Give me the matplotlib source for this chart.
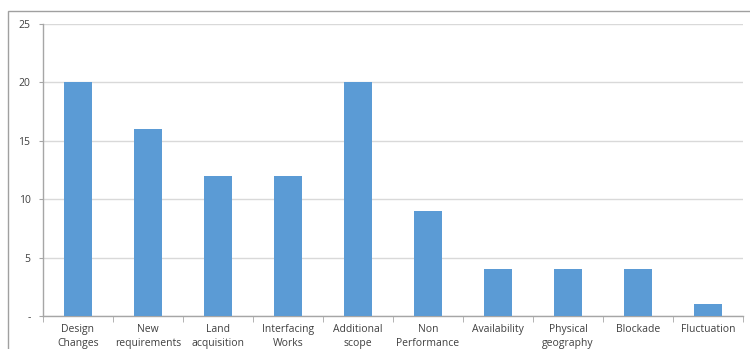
import matplotlib
matplotlib.use("Agg")
import matplotlib.pyplot as plt
import matplotlib.ticker as ticker
from matplotlib.patches import Rectangle

# ── Data ──────────────────────────────────────────────────────────────────────
categories = ["Design\nChanges", "New\nrequirements", "Land\nacquisition",
              "Interfacing\nWorks", "Additional\nscope", "Non\nPerformance",
              "Availability", "Physical\ngeography", "Blockade", "Fluctuation"]
counts = [20, 16, 12, 12, 20, 9, 4, 4, 4, 1]
y_ticks = [0, 5, 10, 15, 20, 25]
y_tick_labels = ["-", "5", "10", "15", "20", "25"]

BAR_COLOR = "#5B9BD5"
GRID_COLOR = "#D9D9D9"
AXIS_COLOR = "#A6A6A6"
TEXT_COLOR = "#404040"

plt.rcParams["font.family"] = ["Open Sans", "DejaVu Sans"]

fig = plt.figure(figsize=(7.5, 3.49), dpi=100)
W, H = 750, 349
ax = fig.add_axes([43 / W, (H - 316) / H, 700 / W, 292 / H])

# outer chart frame (cut off at right and bottom)
fig.patches.append(Rectangle((8 / W, -0.1), 1.2, (H - 11) / H + 0.1,
                             transform=fig.transFigure, fill=False,
                             edgecolor="#A0A0A0", linewidth=1.0))

x = range(len(categories))
ax.bar(x, counts, width=0.4, color=BAR_COLOR, zorder=3)

ax.set_xlim(-0.5, len(categories) - 0.5)
ax.set_ylim(0, 25)
ax.set_yticks(y_ticks)
ax.set_yticklabels(y_tick_labels, fontsize=7.5, color=TEXT_COLOR)
ax.yaxis.grid(True, color=GRID_COLOR, linewidth=1.0, zorder=0)
ax.tick_params(axis="y", length=3, color=AXIS_COLOR, pad=6)

ax.set_xticks(list(x))
ax.set_xticklabels(categories, fontsize=7.5, color=TEXT_COLOR, linespacing=1.3)
ax.tick_params(axis="x", length=0, pad=6)
ax.xaxis.set_minor_locator(ticker.FixedLocator([i - 0.5 for i in range(len(categories) + 1)]))
ax.tick_params(axis="x", which="minor", length=4, color=AXIS_COLOR)

for side in ["top", "right"]:
    ax.spines[side].set_visible(False)
for side in ["left", "bottom"]:
    ax.spines[side].set_color(AXIS_COLOR)
    ax.spines[side].set_linewidth(1.0)

plt.savefig("out.png", dpi=100)
